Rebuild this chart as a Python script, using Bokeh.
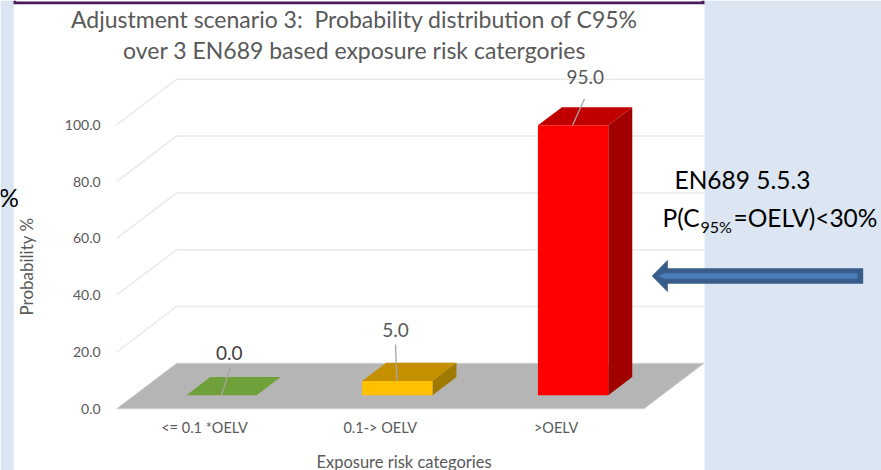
from bokeh.core.properties import value
from bokeh.embed import file_html
from bokeh.models import FixedTicker, LinearAxis, Range1d
from bokeh.plotting import figure
from bokeh.resources import INLINE

# Series drawn in the 3-D column chart
categories = ["<= 0.1 *OELV", "0.1-> OELV", ">OELV"]
probabilities = [0.0, 5.0, 95.0]
value_labels = ["0.0", "5.0", "95.0"]
y_ticks = [0, 20, 40, 60, 80, 100]
y_tick_labels = ["0.0", "20.0", "40.0", "60.0", "80.0", "100.0"]

front_colors = ["#70a03a", "#ffc000", "#ff0000"]
top_colors = ["#70a03a", "#c49000", "#c00000"]
side_colors = ["#5f8a30", "#a07a00", "#a00000"]

W, H = 881, 470
FONT = "Lato"
TEXT_GREY = "#595959"

# Pixel calibration of the two scales
CAT_PX = 175.8
CAT_ZERO_PX = 204.0
VAL_PX = 2.84
VAL_ZERO_PX = 408.3
# Oblique projection of the chart's depth axis
DEPTH_DX = 60.0 / CAT_PX
DEPTH_DY = 45.5 / VAL_PX
BAR_WIDTH = 0.4
BAR_SHIFT = -1.0 / CAT_PX
BAR_T0, BAR_T1 = 0.3, 0.7


def sx(px):
    return (px - CAT_ZERO_PX) / CAT_PX


def sy(py):
    return (VAL_ZERO_PX - py) / VAL_PX


def project(cat, val, t=0.0):
    return cat + t * DEPTH_DX, val + t * DEPTH_DY


def poly(points):
    pts = [project(*q) for q in points]
    return [a for a, _ in pts], [b for _, b in pts]


p = figure(
    width=W, height=H, output_backend="svg", toolbar_location=None,
    x_range=Range1d(sx(0), sx(W)), y_range=Range1d(sy(H), sy(0)),
    x_axis_type=None, y_axis_type=None,
    min_border=0, min_border_left=0, min_border_right=0, min_border_top=0, min_border_bottom=0,
    outline_line_color=None, background_fill_color="white", border_fill_color="white",
)
p.grid.visible = False

# Slide background either side of the chart, and the frame along the top
BAND = "#dce6f2"
p.quad(left=[sx(0), sx(704)], right=[sx(13.3), sx(W)], top=[sy(0)] * 2, bottom=[sy(H)] * 2,
       fill_color=BAND, line_color=None)
p.patch([sx(13), sx(13), sx(704), sx(704), sx(701), sx(701), sx(15.7), sx(15.7)],
        [sy(0), sy(3.8), sy(3.8), sy(0), sy(0), sy(1.1), sy(1.1), sy(0)],
        fill_color="#4a1a5c", line_color=None)

# Gridlines on the side and back walls
for tick in y_ticks[1:]:
    xs, ys = poly([(-0.5, tick, 0), (-0.5, tick, 1), (2.5, tick, 1)])
    p.line(xs, ys, line_color="#e9e9e9", line_width=1.5)

# Floor
xs, ys = poly([(-0.5, 0, 0), (2.5, 0, 0), (2.5, 0, 1), (-0.5, 0, 1)])
p.patch(xs, ys, fill_color="#b5b5b5", line_color="#d0d0d0", line_width=0.8)

# Columns: top, side, then front face
for i, v in enumerate(probabilities):
    a, b = i + BAR_SHIFT - BAR_WIDTH / 2, i + BAR_SHIFT + BAR_WIDTH / 2
    xs, ys = poly([(a, v, BAR_T0), (b, v, BAR_T0), (b, v, BAR_T1), (a, v, BAR_T1)])
    p.patch(xs, ys, fill_color=top_colors[i], line_color=None)
    if v > 0:
        xs, ys = poly([(b, 0, BAR_T0), (b, 0, BAR_T1), (b, v, BAR_T1), (b, v, BAR_T0)])
        p.patch(xs, ys, fill_color=side_colors[i], line_color=None)
        xs, ys = poly([(a, 0, BAR_T0), (b, 0, BAR_T0), (b, v, BAR_T0), (a, v, BAR_T0)])
        p.patch(xs, ys, fill_color=front_colors[i], line_color=None)

# Data labels with their leader lines (pixel offsets from the column's front top)
leader_dx = [[35.3, 44.0], [34.7, 33.4], [34.6, 46.6]]
leader_dy = [[0.0, 28.0], [0.0, 36.4], [0.0, 26.5]]
label_dx = [43.0, 33.4, 47.3]
label_dy = [42.5, 51.0, 48.0]
for i, v in enumerate(probabilities):
    cx, cy = project(i + BAR_SHIFT - BAR_WIDTH / 2, v, BAR_T0)
    p.line([cx + d / CAT_PX for d in leader_dx[i]], [cy + d / VAL_PX for d in leader_dy[i]],
           line_color="#a6a6a6", line_width=1.3)
    p.text([cx + label_dx[i] / CAT_PX], [cy + label_dy[i] / VAL_PX], text=[value_labels[i]],
           text_font=value(FONT), text_font_size="19px", text_color=TEXT_GREY if i else "#404040",
           text_align="center", text_baseline="middle")

# Axes sit inside the frame, on the floor's front and left edges
y_axis = LinearAxis(
    fixed_location=-0.5, bounds=(0, 100), ticker=FixedTicker(ticks=y_ticks),
    major_label_overrides=dict(zip(y_ticks, y_tick_labels)),
    axis_line_color=None, major_tick_line_color=None, minor_tick_line_color=None,
    major_label_text_font=FONT, major_label_text_font_size="14px", major_label_text_color=TEXT_GREY,
    major_label_standoff=10, axis_label="Probability %", axis_label_text_font=FONT,
    axis_label_text_font_size="17px", axis_label_text_font_style="normal",
    axis_label_text_color=TEXT_GREY, axis_label_standoff=25,
)
p.add_layout(y_axis, "left")

x_axis = LinearAxis(
    fixed_location=0, bounds=(-0.5, 2.77), ticker=FixedTicker(ticks=[0, 1, 2]),
    major_label_overrides=dict(zip([0, 1, 2], categories)),
    axis_line_color=None, major_tick_line_color=None, minor_tick_line_color=None,
    major_label_text_font=FONT, major_label_text_font_size="14.5px", major_label_text_color=TEXT_GREY,
    major_label_standoff=4, axis_label="Exposure risk categories", axis_label_text_font=FONT,
    axis_label_text_font_size="16.5px", axis_label_text_font_style="normal",
    axis_label_text_color=TEXT_GREY, axis_label_standoff=13,
)
p.add_layout(x_axis, "below")

# Two-line chart title
title_lines = ["Adjustment scenario 3:\u00a0 Probability distribution of C95%",
               "over 3 EN689 based exposure risk catergories"]
for line, py in zip(title_lines, [18.5, 49.5]):
    p.text([sx(354)], [sy(py)], text=[line], text_font=value(FONT), text_font_size="23px",
           text_color=TEXT_GREY, text_align="center", text_baseline="middle")

# Slide annotations around the chart
def slide_text(px, py, s, size, align="left"):
    p.text([sx(px)], [sy(py)], text=[s], text_font=value(FONT), text_font_size=size,
           text_color="black", text_align=align, text_baseline="middle")


slide_text(18.5, 197, "%", "24.5px", "right")
slide_text(674, 178.5, "EN689 5.5.3", "24.5px")
slide_text(662, 217, "P(C", "24.5px")
slide_text(700, 226, "95%", "16px")
slide_text(733, 217, "=OELV)<30%", "24.5px")

# Block arrow pointing at the tall column
arrow_x = [651.3, 667.3, 667.3, 862.7, 862.7, 667.3, 667.3]
arrow_y = [275.4, 259.3, 267.7, 267.7, 283.3, 283.3, 291.7]
p.patch([sx(a) for a in arrow_x], [sy(a) for a in arrow_y], fill_color="#385d8a", line_color=None)
inner_x = [658, 664, 857, 857, 664]
inner_y = [275.4, 272.7, 272.7, 278.2, 278.2]
p.patch([sx(a) for a in inner_x], [sy(a) for a in inner_y], fill_color="#4a7ebb", line_color=None)

open("out.html", "w").write(file_html(p, INLINE))
